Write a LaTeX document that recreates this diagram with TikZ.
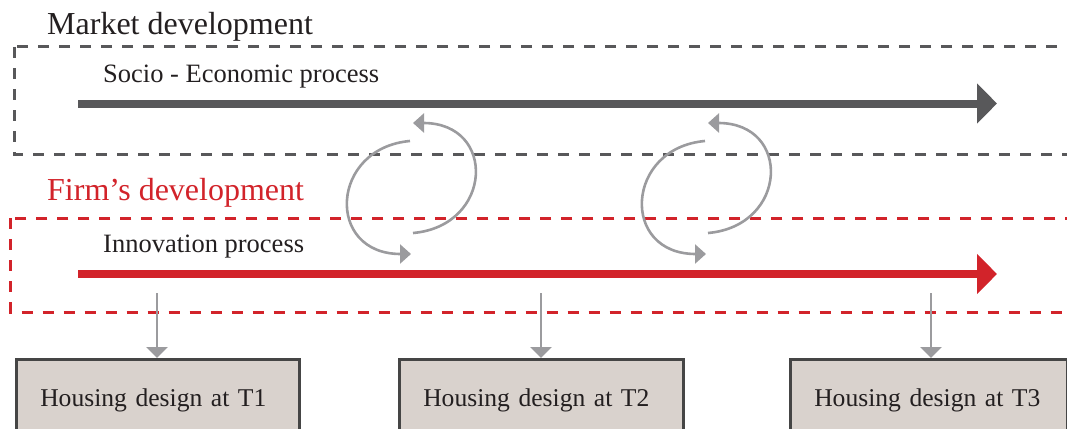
\documentclass[tikz,border=0pt]{standalone}
\usepackage{fontspec}
\setmainfont{Liberation Serif}
\usetikzlibrary{arrows.meta}

\definecolor{ink}{HTML}{231F20}
\definecolor{slate}{HTML}{58585A}
\definecolor{firmred}{HTML}{D2232A}
\definecolor{loopgray}{HTML}{9B9B9E}
\definecolor{boxfill}{HTML}{D9D2CD}
\definecolor{boxline}{HTML}{454545}

\tikzset{
  heading/.style={anchor=base west, inner sep=0pt, font=\fontsize{32}{38}\selectfont},
  proclabel/.style={anchor=base west, inner sep=0pt, text=ink, font=\fontsize{26.5}{31}\selectfont},
  dashframe/.style={line width=3pt, dash pattern=on 11pt off 10pt},
  flow/.style={line width=8pt, -{Triangle[length=20pt,width=39pt]}},
  feedback/.style={draw=loopgray, line width=2.6pt, -{Triangle[length=11pt,width=19pt]}},
  drop/.style={draw=loopgray, line width=2.6pt, -{Triangle[length=11pt,width=21pt]}},
  design/.style={draw=boxline, fill=boxfill, line width=2.5pt, anchor=north west,
    minimum height=82pt, inner xsep=24pt, align=left, text=ink,
    font=\fontsize{25.6}{30}\selectfont}
}

\begin{document}
\begin{tikzpicture}[x=1pt,y=-1pt]
  \useasboundingbox (0,0) rectangle (1067,428);
  \clip (0,0) rectangle (1067,428);

  % market level
  \node[heading, text=ink] (market) at (47,35) {Market development};
  \draw[dashframe, slate] (14,47) rectangle (1090,154);
  \node[proclabel] (socio) at (103,82) {Socio - Economic process};
  \coordinate (socioStart) at (78,103.5);
  \coordinate (socioEnd) at (997,103.5);
  \draw[flow, slate] (socioStart) -- (socioEnd);

  % firm level
  \node[heading, text=firmred] (firm) at (47,200) {Firm’s development};
  \draw[dashframe, firmred] (10.7,218) rectangle (1090,312);
  \node[proclabel] (innov) at (103,252) {Innovation process};
  \coordinate (innovStart) at (78,274);
  \coordinate (innovEnd) at (997,274);
  \draw[flow, firmred] (innovStart) -- (innovEnd);

  % feedback loops between the two levels
  \coordinate (loopAa) at (410,141);
  \coordinate (loopAb) at (411,254);
  \coordinate (loopAc) at (413,233);
  \coordinate (loopAd) at (413,123);
  \draw[feedback] (loopAa) .. controls (330,148) and (325,254) .. (loopAb);
  \draw[feedback] (loopAc) .. controls (493,226) and (497,123) .. (loopAd);

  \coordinate (loopBa) at (705,141);
  \coordinate (loopBb) at (706,254);
  \coordinate (loopBc) at (708,233);
  \coordinate (loopBd) at (708,123);
  \draw[feedback] (loopBa) .. controls (625,148) and (620,254) .. (loopBb);
  \draw[feedback] (loopBc) .. controls (788,226) and (792,123) .. (loopBd);

  % housing designs over time
  \node[design, text width=235pt] (t1) at (15,358) {Housing design at T1};
  \node[design, text width=236pt] (t2) at (398,358) {Housing design at T2};
  \node[design, text width=229pt] (t3) at (789,358) {Housing design at T3};

  \coordinate (d1) at (157,293);
  \coordinate (d2) at (541,293);
  \coordinate (d3) at (931,293);
  \draw[drop] (d1) -- (d1 |- t1.north);
  \draw[drop] (d2) -- (d2 |- t2.north);
  \draw[drop] (d3) -- (d3 |- t3.north);
\end{tikzpicture}
\end{document}
